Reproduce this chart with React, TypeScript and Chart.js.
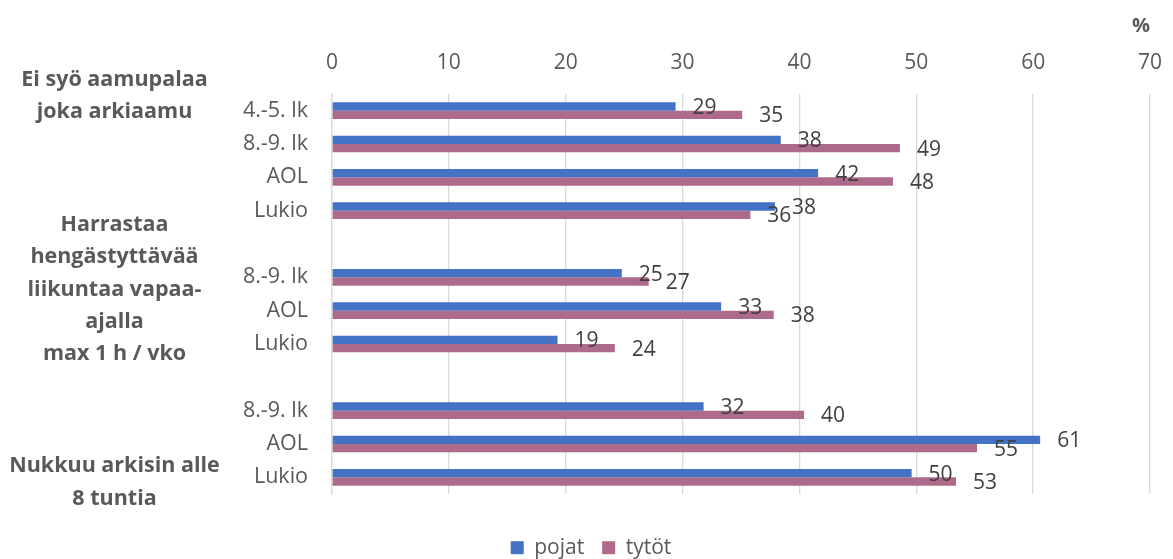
import React, { useEffect, useRef } from "react";
import { Chart, registerables } from "chart.js";

Chart.register(...registerables);

const categories = [
  "4.-5. lk", "8.-9. lk", "AOL", "Lukio", "",
  "8.-9. lk", "AOL", "Lukio", "",
  "8.-9. lk", "AOL", "Lukio",
];
const pojat = [29.4, 38.4, 41.6, 37.9, null, 24.8, 33.3, 19.3, null, 31.8, 60.6, 49.6];
const tytot = [35.1, 48.6, 48.0, 35.8, null, 27.1, 37.8, 24.2, null, 40.4, 55.2, 53.4];
const seriesNames = ["pojat", "tytöt"];
const xTicks = [0, 10, 20, 30, 40, 50, 60, 70];
const axisUnit = "%";
const groupTitles = [
  ["Ei syö aamupalaa", "joka arkiaamu"],
  ["Harrastaa", "hengästyttävää", "liikuntaa vapaa-", "ajalla", "max 1 h / vko"],
  ["Nukkuu arkisin alle", "8 tuntia"],
];

const FONT = "'Open Sans', 'DejaVu Sans', sans-serif";
const TEXT = "#595959";
const PAD_LEFT = 32;

const groupAnchors = [
  { row: 0, dy: -31 },
  { row: 4, dy: -19 },
  { row: 11, dy: -11 },
];

const groupLabelPlugin = {
  id: "groupLabels",
  afterDraw(chart: any) {
    const ctx = chart.ctx;
    const y = chart.scales.y;
    ctx.save();
    ctx.font = `bold 21.5px ${FONT}`;
    ctx.fillStyle = TEXT;
    ctx.textAlign = "center";
    ctx.textBaseline = "middle";
    groupTitles.forEach((lines, gi) => {
      const a = groupAnchors[gi];
      const y0 = y.getPixelForValue(a.row) + a.dy;
      lines.forEach((line, li) => {
        ctx.fillText(line, 114.5, y0 + li * 32.2);
      });
    });
    ctx.restore();
  },
};

const valueLabelPlugin = {
  id: "valueLabels",
  afterDatasetsDraw(chart: any) {
    const ctx = chart.ctx;
    ctx.save();
    ctx.font = `21px ${FONT}`;
    ctx.fillStyle = "#404040";
    ctx.textAlign = "left";
    ctx.textBaseline = "middle";
    chart.data.datasets.forEach((ds: any, di: number) => {
      const meta = chart.getDatasetMeta(di);
      meta.data.forEach((bar: any, i: number) => {
        const v = ds.data[i];
        if (v === null || v === undefined) return;
        ctx.fillText(String(Math.round(v)), bar.x + 17, bar.y + 1.5);
      });
    });
    ctx.restore();
  },
};

export default function App() {
  const ref = useRef<HTMLCanvasElement>(null);
  useEffect(() => {
    if (!ref.current) return;
    const chart = new Chart(ref.current, {
      type: "bar",
      data: {
        labels: categories,
        datasets: [
          {
            label: seriesNames[0],
            data: pojat,
            backgroundColor: "#4472C4",
            categoryPercentage: 0.5,
            barPercentage: 1.0,
          },
          {
            label: seriesNames[1],
            data: tytot,
            backgroundColor: "#AE6A8B",
            categoryPercentage: 0.5,
            barPercentage: 1.0,
          },
        ],
      },
      options: {
        indexAxis: "y",
        animation: false,
        responsive: true,
        maintainAspectRatio: false,
        layout: { padding: { left: PAD_LEFT, right: 23, top: 0, bottom: 0 } },
        plugins: {
          tooltip: { enabled: false },
          legend: {
            position: "bottom",
            maxHeight: 65,
            labels: {
              boxWidth: 13,
              boxHeight: 13,
              padding: 18,
              color: TEXT,
              font: { family: FONT, size: 21 },
            },
            title: { display: true, text: " ", font: { size: 1 }, padding: { top: 24, bottom: 0 } },
          },
        },
        scales: {
          x: {
            position: "top",
            min: 0,
            max: 70,
            afterBuildTicks: (s: any) => {
              s.ticks = xTicks.map((v) => ({ value: v }));
            },
            afterFit: (s: any) => {
              s.height = 94;
              s.paddingLeft = 0;
              s.paddingRight = 0;
            },
            ticks: {
              color: TEXT,
              font: { family: FONT, size: 21 },
              padding: 18,
            },
            grid: { color: "#D9D9D9", lineWidth: 1.3, drawTicks: false },
            border: { display: false },
            title: {
              display: true,
              text: axisUnit,
              align: "end",
              color: TEXT,
              font: { family: FONT, size: 20, weight: "bold" },
              padding: { top: 14, bottom: 0 },
            },
          },
          y: {
            afterFit: (s: any) => {
              s.width = 332 - PAD_LEFT;
            },
            ticks: {
              color: TEXT,
              font: { family: FONT, size: 21.5 },
              padding: 24,
              autoSkip: false,
            },
            grid: { display: false, drawTicks: false },
            border: { display: true, color: "#D9D9D9", width: 1.3 },
          },
        },
      },
      plugins: [groupLabelPlugin, valueLabelPlugin],
    } as any);
    return () => chart.destroy();
  }, []);
  return (
    <div style={{ position: "fixed", left: 0, top: 0, width: 1173, height: 559, background: "#fff" }}>
      <canvas ref={ref} />
    </div>
  );
}
